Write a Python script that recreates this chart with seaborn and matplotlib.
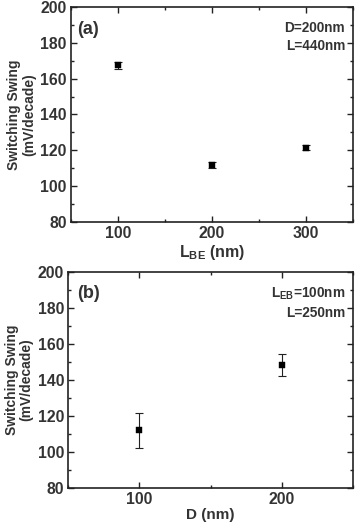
import matplotlib
matplotlib.use("Agg")
import matplotlib.pyplot as plt
import seaborn as sns
import pandas as pd
from matplotlib.ticker import MultipleLocator

# Data
lbe_nm = [100, 200, 300]
ss_a = [167.5, 112.0, 121.5]
err_a = [2.0, 1.6, 1.2]

d_nm = [100, 200]
ss_b = [112.0, 148.5]
err_b = [9.8, 6.0]

sns.set_theme(style="ticks")
plt.rcParams['font.family'] = ['Liberation Sans', 'DejaVu Sans']
plt.rcParams['font.weight'] = 'bold'
plt.rcParams['mathtext.fontset'] = 'custom'
plt.rcParams['mathtext.rm'] = 'Liberation Sans:bold'
plt.rcParams['mathtext.bf'] = 'Liberation Sans:bold'
plt.rcParams['mathtext.it'] = 'Liberation Sans:bold'

W, H = 359, 530
fig = plt.figure(figsize=(W / 100, H / 100), dpi=100)

def box(l, t, r, b):
    return [l / W, 1 - b / H, (r - l) / W, (b - t) / H]

ax1 = fig.add_axes(box(70.7, 7, 353, 222))
ax2 = fig.add_axes(box(68.3, 272.3, 353, 487.7))

dfa = pd.DataFrame({"x": lbe_nm, "y": ss_a, "e": err_a})
dfb = pd.DataFrame({"x": d_nm, "y": ss_b, "e": err_b})

for ax, df, xlim, xmaj in [(ax1, dfa, (50, 350), 100), (ax2, dfb, (50, 250), 100)]:
    ax.errorbar(df["x"], df["y"], yerr=df["e"], fmt='none', ecolor='#222222',
                elinewidth=0.8, capsize=2.8, capthick=0.8, zorder=2)
    sns.scatterplot(data=df, x="x", y="y", ax=ax, marker='s', s=18, color='black',
                    edgecolor='black', linewidth=0.3, zorder=3, legend=False)
    ax.set_xlim(*xlim)
    ax.set_ylim(80, 200)
    ax.xaxis.set_major_locator(MultipleLocator(xmaj))
    ax.xaxis.set_minor_locator(MultipleLocator(xmaj / 2))
    ax.yaxis.set_major_locator(MultipleLocator(20))
    ax.yaxis.set_minor_locator(MultipleLocator(10))
    ax.tick_params(which='both', direction='in', top=True, right=True, width=1.0, color='#222222')
    ax.tick_params(which='major', length=4, labelsize=11.3, pad=3, labelcolor='#333333')
    ax.tick_params(which='minor', length=2.5)
    for lab in ax.get_xticklabels() + ax.get_yticklabels():
        lab.set_fontweight('bold')
    for sp in ax.spines.values():
        sp.set_linewidth(1.2)
        sp.set_color('#222222')
    ax.set_ylabel("Switching Swing\n(mV/decade)", fontsize=10, fontweight='bold',
                  color='#333333', linespacing=1.05, labelpad=3)

ax1.set_xlabel(r"L$_{\mathbf{BE}}$ (nm)", fontsize=11.5, fontweight='bold', color='#333333', labelpad=1)
ax2.set_xlabel("D (nm)", fontsize=11, fontweight='bold', color='#333333', labelpad=1)

ax1.text(0.022, 0.935, "(a)", transform=ax1.transAxes, fontsize=13, fontweight='bold',
         va='top', ha='left', color='#333333')
ax1.text(0.972, 0.935, "D=200nm\nL=440nm", transform=ax1.transAxes, fontsize=9.8,
         fontweight='bold', va='top', ha='right', color='#333333', linespacing=1.4)

ax2.text(0.031, 0.94, "(b)", transform=ax2.transAxes, fontsize=13, fontweight='bold',
         va='top', ha='left', color='#333333')
ax2.text(0.972, 0.94, "L$_{\\mathbf{EB}}$=100nm\nL=250nm", transform=ax2.transAxes, fontsize=9.8,
         fontweight='bold', va='top', ha='right', color='#333333', linespacing=1.4)

fig.savefig("out.png", dpi=100)
